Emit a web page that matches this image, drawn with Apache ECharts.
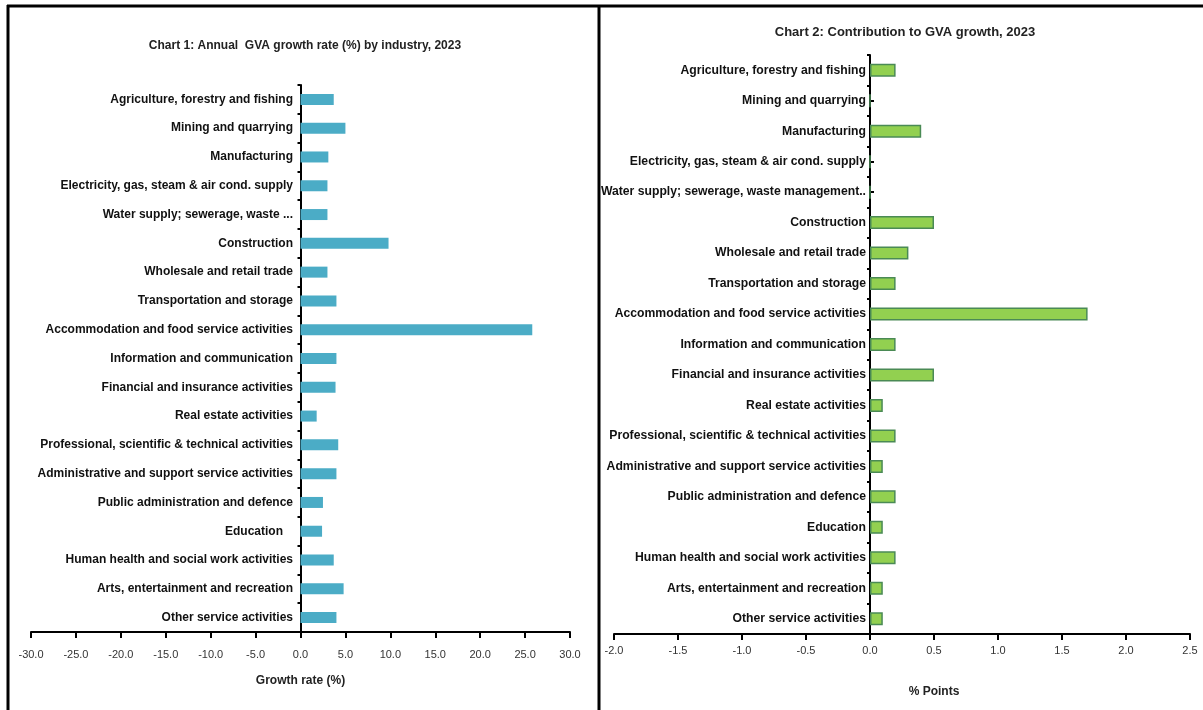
<!DOCTYPE html>
<html>
<head>
<meta charset="utf-8">
<script src="https://cdn.jsdelivr.net/npm/echarts@6/dist/echarts.min.js"></script>
<style>
  html, body { margin: 0; padding: 0; background: #fff; }
  #main { width: 1203px; height: 710px; }
</style>
</head>
<body>
<div id="main"></div>
<script>
// categories, top to bottom
var industries1 = ['Agriculture, forestry and fishing', 'Mining and quarrying', 'Manufacturing',
  'Electricity, gas, steam & air cond. supply', 'Water supply; sewerage, waste ...', 'Construction',
  'Wholesale and retail trade', 'Transportation and storage', 'Accommodation and food service activities',
  'Information and communication', 'Financial and insurance activities', 'Real estate activities',
  'Professional, scientific & technical activities', 'Administrative and support service activities',
  'Public administration and defence', 'Education   ', 'Human health and social work activities',
  'Arts, entertainment and recreation', 'Other service activities'];
var industries2 = ['Agriculture, forestry and fishing', 'Mining and quarrying', 'Manufacturing',
  'Electricity, gas, steam & air cond. supply', 'Water supply; sewerage, waste management..', 'Construction',
  'Wholesale and retail trade', 'Transportation and storage', 'Accommodation and food service activities',
  'Information and communication', 'Financial and insurance activities', 'Real estate activities',
  'Professional, scientific & technical activities', 'Administrative and support service activities',
  'Public administration and defence', 'Education', 'Human health and social work activities',
  'Arts, entertainment and recreation', 'Other service activities'];

// chart 1: annual GVA growth rate (%)
var growthRate = [3.7, 5.0, 3.1, 3.0, 3.0, 9.8, 3.0, 4.0, 25.8, 4.0, 3.9, 1.8, 4.2, 4.0, 2.5, 2.4, 3.7, 4.8, 4.0];
// chart 2: contribution to GVA growth (% points)
var contribution = [0.2, 0, 0.4, 0, 0, 0.5, 0.3, 0.2, 1.7, 0.2, 0.5, 0.1, 0.2, 0.1, 0.2, 0.1, 0.2, 0.1, 0.1];

var font = "'Liberation Sans', Arial, sans-serif";

var myChart = echarts.init(document.getElementById('main'));

var option = {
  backgroundColor: '#fff',
  animation: false,
  textStyle: { fontFamily: font },
  title: [
    {
      text: 'Chart 1: Annual  GVA growth rate (%) by industry, 2023',
      left: 300, top: 35, textAlign: 'center',
      textStyle: { fontFamily: font, fontSize: 12, fontWeight: 'bold', color: '#222' }
    },
    {
      text: 'Chart 2: Contribution to GVA growth, 2023',
      left: 900, top: 21, textAlign: 'center',
      textStyle: { fontFamily: font, fontSize: 13, fontWeight: 'bold', color: '#222' }
    }
  ],
  grid: [
    { left: 31, top: 85, width: 539, height: 547, containLabel: false, outerBoundsMode: 'none' },
    { left: 614, top: 55, width: 576, height: 579, containLabel: false, outerBoundsMode: 'none' }
  ],
  xAxis: [
    {
      type: 'value', gridIndex: 0, min: -30, max: 30, interval: 5,
      name: 'Growth rate (%)', nameLocation: 'middle', nameGap: 43,
      nameTextStyle: { fontFamily: font, fontSize: 12, fontWeight: 'bold', color: '#222' },
      axisLine: { show: true, lineStyle: { color: '#000', width: 2 } },
      axisTick: { show: true, length: 6, lineStyle: { color: '#000', width: 2 } },
      axisLabel: { margin: 17, fontSize: 11, color: '#333', formatter: function (v) { return v.toFixed(1); } },
      splitLine: { show: false }
    },
    {
      type: 'value', gridIndex: 1, min: -2, max: 2.5, interval: 0.5,
      name: '% Points', nameLocation: 'middle', nameGap: 52,
      nameTextStyle: { fontFamily: font, fontSize: 12, fontWeight: 'bold', color: '#222', padding: [0, 0, 0, 64] },
      axisLine: { show: true, lineStyle: { color: '#000', width: 2 } },
      axisTick: { show: true, length: 6, lineStyle: { color: '#000', width: 2 } },
      axisLabel: { margin: 11, fontSize: 11, color: '#333', formatter: function (v) { return v.toFixed(1); } },
      splitLine: { show: false }
    }
  ],
  yAxis: [
    {
      type: 'category', gridIndex: 0, data: industries1, inverse: true,
      axisLine: { show: true, onZero: true, lineStyle: { color: '#000', width: 2 } },
      axisTick: { show: true, length: 3, lineStyle: { color: '#000', width: 2 } },
      // labels sit left of the zero line, not the grid edge
      axisLabel: { margin: -262, fontSize: 12, fontWeight: 'bold', color: '#111' }
    },
    {
      type: 'category', gridIndex: 1, data: industries2, inverse: true, position: 'left',
      axisLine: { show: true, onZero: true, lineStyle: { color: '#000', width: 2 } },
      axisTick: { show: true, length: 3, lineStyle: { color: '#000', width: 2 } },
      axisLabel: { margin: -252, fontSize: 12.2, fontWeight: 'bold', color: '#111' }
    },
    {
      // small marks at category centres on chart 2, shifted onto the zero line
      type: 'category', gridIndex: 1, data: industries2, inverse: true, position: 'left', offset: -257,
      axisLine: { show: false, onZero: false },
      axisTick: { show: true, inside: true, alignWithLabel: true, length: 3, lineStyle: { color: '#000', width: 2 } },
      axisLabel: { show: false }
    }
  ],
  series: [
    {
      name: 'Growth rate', type: 'bar', xAxisIndex: 0, yAxisIndex: 0,
      data: growthRate, barWidth: 11,
      itemStyle: { color: '#4bacc6' }
    },
    {
      name: 'Contribution', type: 'bar', xAxisIndex: 1, yAxisIndex: 1,
      data: contribution, barWidth: 13,
      itemStyle: { color: '#92d050', borderColor: '#4a8a55', borderWidth: 1.5 }
    }
  ],
  graphic: [
    { type: 'line', shape: { x1: 7, y1: 6, x2: 1203, y2: 6 }, style: { stroke: '#000', lineWidth: 3 } },
    { type: 'line', shape: { x1: 8, y1: 5, x2: 8, y2: 710 }, style: { stroke: '#000', lineWidth: 3 } },
    { type: 'line', shape: { x1: 599, y1: 5, x2: 599, y2: 710 }, style: { stroke: '#000', lineWidth: 3 } }
  ]
};

myChart.setOption(option);
</script>
</body>
</html>
